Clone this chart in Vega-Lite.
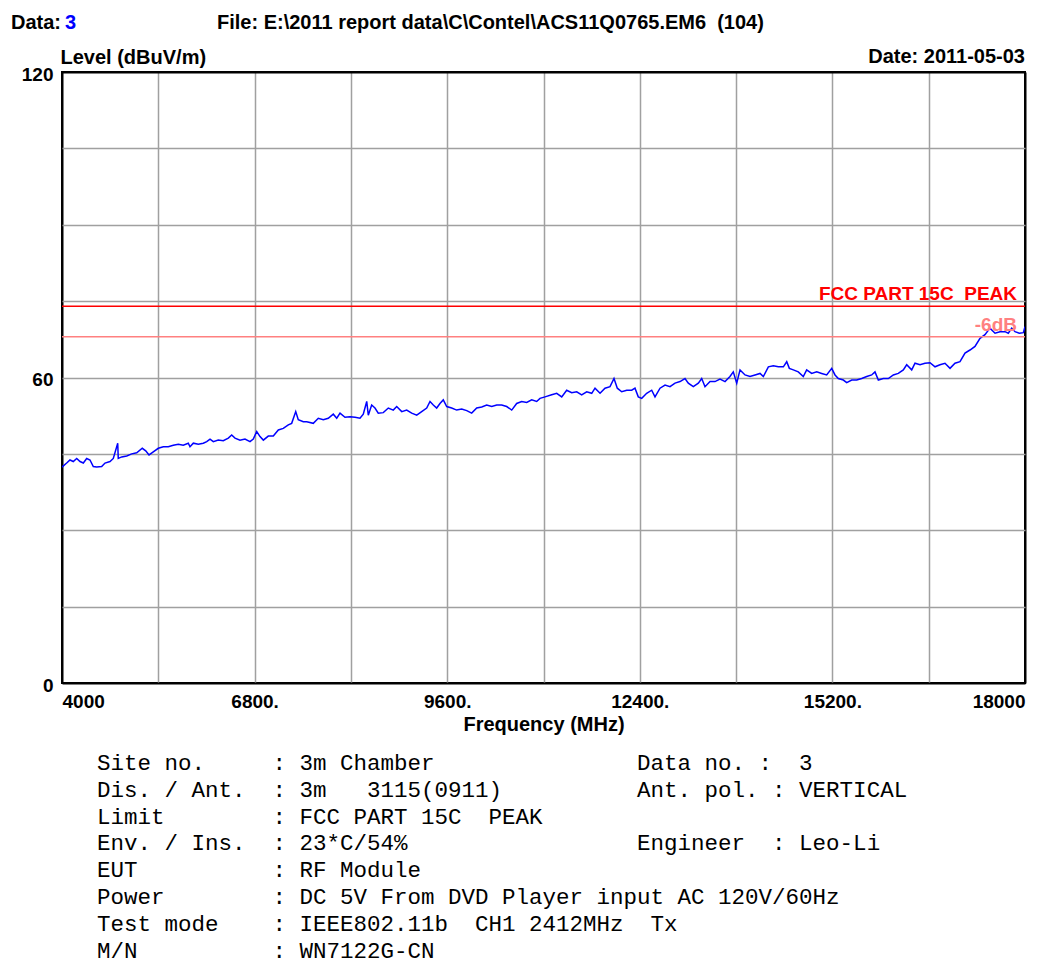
{
  "$schema": "https://vega.github.io/schema/vega-lite/v6.json",
  "width": 963,
  "height": 611,
  "autosize": {"type": "none"},
  "padding": {"left": 62, "top": 72, "right": 16, "bottom": 280},
  "background": "white",
  "config": {
    "view": {"stroke": "black", "strokeWidth": 2},
    "font": "Liberation Sans",
    "axis": {
      "domain": false,
      "ticks": false,
      "labelFont": "Liberation Sans",
      "labelFontWeight": "bold",
      "labelFontSize": 19,
      "labelColor": "black",
      "titleFont": "Liberation Sans",
      "titleFontWeight": "bold",
      "titleFontSize": 20,
      "titleColor": "black",
      "labelOverlap": false
    }
  },
  "datasets": {
    "trace": [
      {"freq": 4000, "level": 42.4}, {"freq": 4068, "level": 43.2}, {"freq": 4116, "level": 43.8}, {"freq": 4164, "level": 43.5},
      {"freq": 4214, "level": 44.1}, {"freq": 4262, "level": 43.5}, {"freq": 4310, "level": 43.2}, {"freq": 4359, "level": 44.1},
      {"freq": 4407, "level": 43.8}, {"freq": 4455, "level": 42.5}, {"freq": 4504, "level": 42.4}, {"freq": 4577, "level": 42.5},
      {"freq": 4625, "level": 43.2}, {"freq": 4698, "level": 43.5}, {"freq": 4746, "level": 44.1}, {"freq": 4810, "level": 47.1},
      {"freq": 4818, "level": 44.1}, {"freq": 4868, "level": 44.4}, {"freq": 4941, "level": 44.6}, {"freq": 5013, "level": 45.0},
      {"freq": 5086, "level": 45.2}, {"freq": 5167, "level": 46.1}, {"freq": 5217, "level": 45.6}, {"freq": 5265, "level": 44.8},
      {"freq": 5327, "level": 45.4}, {"freq": 5400, "level": 46.1}, {"freq": 5473, "level": 46.4}, {"freq": 5545, "level": 46.4},
      {"freq": 5618, "level": 46.7}, {"freq": 5691, "level": 46.9}, {"freq": 5763, "level": 46.7}, {"freq": 5836, "level": 47.1},
      {"freq": 5861, "level": 46.4}, {"freq": 5909, "level": 47.1}, {"freq": 5982, "level": 46.9}, {"freq": 6054, "level": 47.1},
      {"freq": 6104, "level": 47.4}, {"freq": 6152, "level": 47.9}, {"freq": 6200, "level": 47.4}, {"freq": 6272, "level": 47.7},
      {"freq": 6345, "level": 47.6}, {"freq": 6418, "level": 48.1}, {"freq": 6467, "level": 48.7}, {"freq": 6515, "level": 48.1},
      {"freq": 6588, "level": 47.7}, {"freq": 6660, "level": 47.9}, {"freq": 6733, "level": 47.4}, {"freq": 6781, "level": 47.9},
      {"freq": 6831, "level": 49.4}, {"freq": 6879, "level": 48.4}, {"freq": 6927, "level": 47.7}, {"freq": 6999, "level": 48.5},
      {"freq": 7072, "level": 48.5}, {"freq": 7145, "level": 49.7}, {"freq": 7217, "level": 50.0}, {"freq": 7290, "level": 50.7},
      {"freq": 7339, "level": 51.0}, {"freq": 7398, "level": 53.3}, {"freq": 7435, "level": 51.7}, {"freq": 7508, "level": 51.3},
      {"freq": 7558, "level": 51.3}, {"freq": 7653, "level": 51.0}, {"freq": 7726, "level": 52.0}, {"freq": 7799, "level": 51.7},
      {"freq": 7871, "level": 52.0}, {"freq": 7944, "level": 52.8}, {"freq": 7994, "level": 52.0}, {"freq": 8042, "level": 53.0},
      {"freq": 8114, "level": 52.2}, {"freq": 8187, "level": 52.3}, {"freq": 8260, "level": 52.2}, {"freq": 8332, "level": 52.0},
      {"freq": 8380, "level": 52.8}, {"freq": 8430, "level": 55.3}, {"freq": 8453, "level": 52.6}, {"freq": 8502, "level": 54.6},
      {"freq": 8550, "level": 54.0}, {"freq": 8598, "level": 53.0}, {"freq": 8671, "level": 53.1}, {"freq": 8744, "level": 54.0},
      {"freq": 8816, "level": 53.6}, {"freq": 8866, "level": 54.3}, {"freq": 8939, "level": 53.3}, {"freq": 9011, "level": 53.6},
      {"freq": 9084, "level": 53.0}, {"freq": 9157, "level": 52.6}, {"freq": 9229, "level": 53.3}, {"freq": 9302, "level": 54.0},
      {"freq": 9350, "level": 55.3}, {"freq": 9398, "level": 54.6}, {"freq": 9447, "level": 54.0}, {"freq": 9495, "level": 54.9},
      {"freq": 9543, "level": 55.6}, {"freq": 9593, "level": 54.3}, {"freq": 9665, "level": 54.0}, {"freq": 9738, "level": 53.6},
      {"freq": 9811, "level": 53.8}, {"freq": 9884, "level": 53.5}, {"freq": 9956, "level": 53.0}, {"freq": 10029, "level": 54.0},
      {"freq": 10102, "level": 54.2}, {"freq": 10174, "level": 54.6}, {"freq": 10247, "level": 54.3}, {"freq": 10320, "level": 54.6},
      {"freq": 10392, "level": 54.6}, {"freq": 10465, "level": 54.3}, {"freq": 10538, "level": 53.6}, {"freq": 10610, "level": 54.9},
      {"freq": 10683, "level": 55.3}, {"freq": 10756, "level": 55.1}, {"freq": 10828, "level": 55.6}, {"freq": 10901, "level": 55.3},
      {"freq": 10949, "level": 55.9}, {"freq": 11022, "level": 56.2}, {"freq": 11119, "level": 56.6}, {"freq": 11192, "level": 56.9},
      {"freq": 11265, "level": 56.2}, {"freq": 11337, "level": 57.5}, {"freq": 11410, "level": 57.0}, {"freq": 11483, "level": 57.2},
      {"freq": 11555, "level": 56.6}, {"freq": 11628, "level": 57.2}, {"freq": 11701, "level": 56.9}, {"freq": 11749, "level": 57.9},
      {"freq": 11822, "level": 56.9}, {"freq": 11894, "level": 57.9}, {"freq": 11967, "level": 58.2}, {"freq": 12025, "level": 59.8},
      {"freq": 12073, "level": 57.9}, {"freq": 12137, "level": 57.2}, {"freq": 12210, "level": 57.5}, {"freq": 12282, "level": 57.5},
      {"freq": 12330, "level": 57.9}, {"freq": 12378, "level": 56.2}, {"freq": 12428, "level": 55.9}, {"freq": 12500, "level": 56.9},
      {"freq": 12573, "level": 57.5}, {"freq": 12621, "level": 56.2}, {"freq": 12694, "level": 57.9}, {"freq": 12767, "level": 58.5},
      {"freq": 12839, "level": 58.2}, {"freq": 12912, "level": 58.9}, {"freq": 12985, "level": 59.2}, {"freq": 13057, "level": 59.8},
      {"freq": 13105, "level": 58.9}, {"freq": 13178, "level": 58.2}, {"freq": 13251, "level": 58.9}, {"freq": 13300, "level": 59.8},
      {"freq": 13348, "level": 58.2}, {"freq": 13421, "level": 59.2}, {"freq": 13493, "level": 59.2}, {"freq": 13566, "level": 59.7},
      {"freq": 13639, "level": 59.2}, {"freq": 13711, "level": 60.2}, {"freq": 13759, "level": 61.1}, {"freq": 13809, "level": 58.9},
      {"freq": 13857, "level": 61.5}, {"freq": 13930, "level": 60.5}, {"freq": 14002, "level": 60.2}, {"freq": 14075, "level": 60.5},
      {"freq": 14148, "level": 60.8}, {"freq": 14196, "level": 60.2}, {"freq": 14269, "level": 62.1}, {"freq": 14341, "level": 62.3},
      {"freq": 14414, "level": 62.1}, {"freq": 14487, "level": 62.1}, {"freq": 14536, "level": 63.1}, {"freq": 14574, "level": 61.8},
      {"freq": 14632, "level": 61.5}, {"freq": 14704, "level": 61.1}, {"freq": 14777, "level": 60.2}, {"freq": 14826, "level": 61.5},
      {"freq": 14899, "level": 60.8}, {"freq": 14972, "level": 61.1}, {"freq": 15044, "level": 60.8}, {"freq": 15117, "level": 60.5},
      {"freq": 15190, "level": 61.8}, {"freq": 15238, "level": 60.5}, {"freq": 15286, "level": 59.8}, {"freq": 15359, "level": 59.5},
      {"freq": 15408, "level": 59.0}, {"freq": 15481, "level": 59.5}, {"freq": 15553, "level": 59.5}, {"freq": 15626, "level": 59.8},
      {"freq": 15699, "level": 60.2}, {"freq": 15771, "level": 60.5}, {"freq": 15819, "level": 61.1}, {"freq": 15868, "level": 59.5},
      {"freq": 15940, "level": 59.8}, {"freq": 16013, "level": 59.8}, {"freq": 16086, "level": 60.5}, {"freq": 16158, "level": 60.8},
      {"freq": 16231, "level": 61.5}, {"freq": 16280, "level": 62.5}, {"freq": 16353, "level": 61.5}, {"freq": 16401, "level": 62.8},
      {"freq": 16474, "level": 62.5}, {"freq": 16546, "level": 62.8}, {"freq": 16619, "level": 62.9}, {"freq": 16692, "level": 62.1},
      {"freq": 16764, "level": 62.5}, {"freq": 16837, "level": 62.8}, {"freq": 16910, "level": 61.8}, {"freq": 16982, "level": 62.8},
      {"freq": 17055, "level": 63.1}, {"freq": 17128, "level": 64.8}, {"freq": 17200, "level": 65.4}, {"freq": 17273, "level": 66.1},
      {"freq": 17346, "level": 67.7}, {"freq": 17418, "level": 68.4}, {"freq": 17491, "level": 69.7}, {"freq": 17564, "level": 68.7},
      {"freq": 17636, "level": 69.0}, {"freq": 17709, "level": 69.0}, {"freq": 17757, "level": 68.7}, {"freq": 17807, "level": 69.7},
      {"freq": 17855, "level": 69.0}, {"freq": 17917, "level": 68.7}, {"freq": 17976, "level": 68.8}, {"freq": 18000, "level": 70.0}
    ],
    "limits": [
      {"label": "FCC PART 15C\u00a0\u00a0PEAK", "level": 74, "kind": "limit"},
      {"label": "-6dB", "level": 68, "kind": "margin"}
    ]
  },
  "layer": [
    {
      "data": {"name": "trace"},
      "mark": {"type": "line", "color": "#0000ff", "strokeWidth": 1.5, "clip": true},
      "encoding": {
        "x": {
          "field": "freq", "type": "quantitative",
          "scale": {"domain": [4000, 18000], "nice": false, "zero": false},
          "axis": {
            "title": "Frequency (MHz)",
            "values": [4000, 5400, 6800, 8200, 9600, 11000, 12400, 13800, 15200, 16600, 18000],
            "grid": true,
            "gridColor": {"condition": {"test": "datum.value == 4000 || datum.value == 18000", "value": "black"}, "value": "#a0a0a0"},
            "gridWidth": {"condition": {"test": "datum.value == 4000 || datum.value == 18000", "value": 2}, "value": 1.5},
            "labelExpr": "(datum.value - 4000) % 2800 != 0 ? '' : ((datum.value == 4000 || datum.value == 18000) ? format(datum.value, 'd') : format(datum.value, 'd') + '.')",
            "labelFlush": true,
            "labelPadding": 9,
            "titlePadding": 3
          }
        },
        "y": {
          "field": "level", "type": "quantitative",
          "scale": {"domain": [0, 120], "nice": false},
          "axis": {
            "title": "Level (dBuV/m)",
            "values": [0, 15, 30, 45, 60, 75, 90, 105, 120],
            "grid": true,
            "gridColor": {"condition": {"test": "datum.value == 0 || datum.value == 120", "value": "black"}, "value": "#a0a0a0"},
            "gridWidth": {"condition": {"test": "datum.value == 0 || datum.value == 120", "value": 2}, "value": 1.5},
            "labelExpr": "datum.value % 60 == 0 ? format(datum.value, 'd') : ''",
            "labelPadding": 9,
            "labelBaseline": "middle",
            "labelOffset": 2,
            "titleAngle": 0,
            "titleAlign": "left",
            "titleBaseline": "alphabetic",
            "titleX": -2,
            "titleY": -9
          }
        }
      }
    },
    {
      "data": {"name": "limits"},
      "mark": {"type": "rule", "strokeWidth": 1.5},
      "encoding": {
        "y": {"field": "level", "type": "quantitative"},
        "color": {"field": "kind", "type": "nominal", "scale": {"domain": ["limit", "margin"], "range": ["#ff0000", "#ff8080"]}, "legend": null}
      }
    },
    {
      "data": {"name": "limits"},
      "mark": {"type": "text", "align": "right", "baseline": "alphabetic", "dx": -8, "dy": -6, "fontSize": 19, "fontWeight": "bold"},
      "encoding": {
        "x": {"datum": 18000},
        "y": {"field": "level", "type": "quantitative"},
        "text": {"field": "label"},
        "color": {"field": "kind", "type": "nominal", "legend": null}
      }
    },
    {
      "data": {"values": [{"t": "Data:"}]},
      "mark": {"type": "text", "align": "left", "baseline": "alphabetic", "dx": -51, "dy": -43, "fontSize": 20, "fontWeight": "bold", "color": "black"},
      "encoding": {"x": {"datum": 4000}, "y": {"datum": 120}, "text": {"field": "t"}}
    },
    {
      "data": {"values": [{"t": "3"}]},
      "mark": {"type": "text", "align": "left", "baseline": "alphabetic", "dx": 3, "dy": -43, "fontSize": 20, "fontWeight": "bold", "color": "#0000ff"},
      "encoding": {"x": {"datum": 4000}, "y": {"datum": 120}, "text": {"field": "t"}}
    },
    {
      "data": {"values": [{"t": "File: E:\\2011 report data\\C\\Contel\\ACS11Q0765.EM6\u00a0\u00a0(104)"}]},
      "mark": {"type": "text", "align": "left", "baseline": "alphabetic", "dx": 155, "dy": -43, "fontSize": 20, "fontWeight": "bold", "color": "black"},
      "encoding": {"x": {"datum": 4000}, "y": {"datum": 120}, "text": {"field": "t"}}
    },
    {
      "data": {"values": [{"t": "Date: 2011-05-03"}]},
      "mark": {"type": "text", "align": "right", "baseline": "alphabetic", "dx": 0, "dy": -9, "fontSize": 20, "fontWeight": "bold", "color": "black"},
      "encoding": {"x": {"datum": 18000}, "y": {"datum": 120}, "text": {"field": "t"}}
    },
    {
      "data": {"values": [{"t": "Site\u00a0no.\u00a0\u00a0\u00a0\u00a0\u00a0:\u00a03m\u00a0Chamber\u00a0\u00a0\u00a0\u00a0\u00a0\u00a0\u00a0\u00a0\u00a0\u00a0\u00a0\u00a0\u00a0\u00a0\u00a0Data\u00a0no.\u00a0:\u00a0\u00a03\nDis.\u00a0/\u00a0Ant.\u00a0\u00a0:\u00a03m\u00a0\u00a0\u00a03115(0911)\u00a0\u00a0\u00a0\u00a0\u00a0\u00a0\u00a0\u00a0\u00a0\u00a0Ant.\u00a0pol.\u00a0:\u00a0VERTICAL\nLimit\u00a0\u00a0\u00a0\u00a0\u00a0\u00a0\u00a0\u00a0:\u00a0FCC\u00a0PART\u00a015C\u00a0\u00a0PEAK\nEnv.\u00a0/\u00a0Ins.\u00a0\u00a0:\u00a023*C/54%\u00a0\u00a0\u00a0\u00a0\u00a0\u00a0\u00a0\u00a0\u00a0\u00a0\u00a0\u00a0\u00a0\u00a0\u00a0\u00a0\u00a0Engineer\u00a0\u00a0:\u00a0Leo-Li\nEUT\u00a0\u00a0\u00a0\u00a0\u00a0\u00a0\u00a0\u00a0\u00a0\u00a0:\u00a0RF\u00a0Module\nPower\u00a0\u00a0\u00a0\u00a0\u00a0\u00a0\u00a0\u00a0:\u00a0DC\u00a05V\u00a0From\u00a0DVD\u00a0Player\u00a0input\u00a0AC\u00a0120V/60Hz\nTest\u00a0mode\u00a0\u00a0\u00a0\u00a0:\u00a0IEEE802.11b\u00a0\u00a0CH1\u00a02412MHz\u00a0\u00a0Tx\nM/N\u00a0\u00a0\u00a0\u00a0\u00a0\u00a0\u00a0\u00a0\u00a0\u00a0:\u00a0WN7122G-CN"}]},
      "mark": {"type": "text", "align": "left", "baseline": "alphabetic", "dx": 35, "dy": 87, "font": "Liberation Mono", "fontSize": 22.5, "lineHeight": 26.8, "lineBreak": "\n", "color": "black"},
      "encoding": {"x": {"datum": 4000}, "y": {"datum": 0}, "text": {"field": "t"}}
    }
  ]
}
